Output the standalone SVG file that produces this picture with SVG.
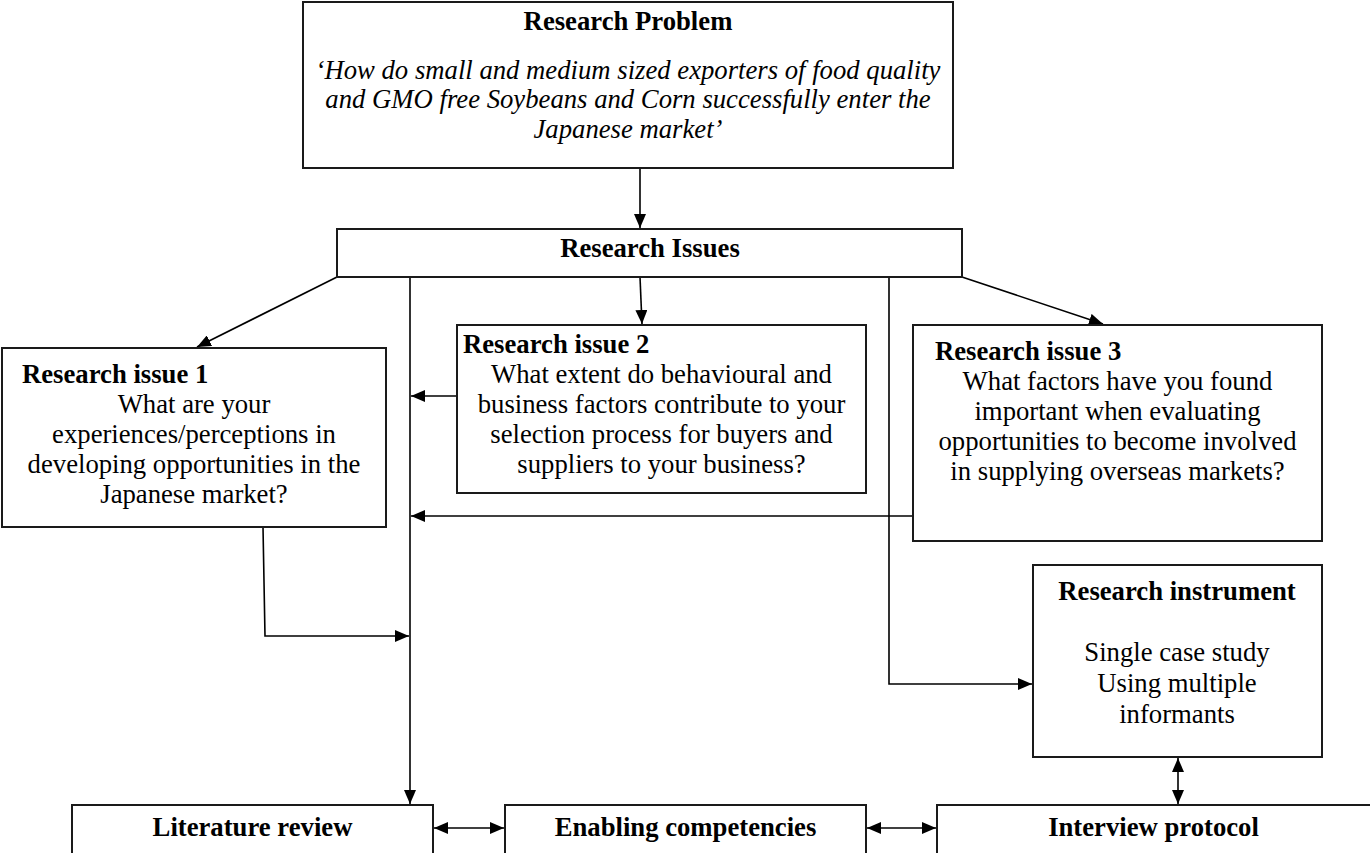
<svg xmlns="http://www.w3.org/2000/svg" width="1370" height="853" viewBox="0 0 1370 853">
  <style>
    .box { fill: #fff; stroke: #1a1a1a; stroke-width: 2; }
    .conn { fill: none; stroke: #000; stroke-width: 1.6; }
    text { font-family: "Liberation Serif", "Times New Roman", serif; font-size: 26.7px; fill: #000; }
    .b { font-weight: bold; }
    .i { font-style: italic; }
    .c { text-anchor: middle; }
  </style>
  <defs>
    <marker id="ah" viewBox="0 0 14 12" refX="14" refY="6" markerWidth="14" markerHeight="12" markerUnits="userSpaceOnUse" orient="auto-start-reverse">
      <path d="M0,0 L14,6 L0,12 z" fill="#000"/>
    </marker>
  </defs>
  <rect width="1370" height="853" fill="#fff"/>

  <!-- connectors -->
  <g id="connectors" class="conn">
    <path d="M640,168 V228" marker-end="url(#ah)"/>
    <path d="M337,277 L197,347" marker-end="url(#ah)"/>
    <path d="M962,277 L1103,324" marker-end="url(#ah)"/>
    <path d="M640,277 L642,324" marker-end="url(#ah)"/>
    <path d="M410,277 V804" marker-end="url(#ah)"/>
    <path d="M457,396 H411" marker-end="url(#ah)"/>
    <path d="M913,516 H411" marker-end="url(#ah)"/>
    <path d="M263,527 L265,636 H409" marker-end="url(#ah)"/>
    <path d="M889,277 V684 H1032" marker-end="url(#ah)"/>
    <path d="M1178,758 V804" marker-start="url(#ah)" marker-end="url(#ah)"/>
    <path d="M434,828 H504" marker-start="url(#ah)" marker-end="url(#ah)"/>
    <path d="M867,828 H936" marker-start="url(#ah)" marker-end="url(#ah)"/>
  </g>

  <g id="research-problem">
    <rect class="box" x="303" y="2" width="650" height="166"/>
    <text class="b c" x="628" y="30">Research Problem</text>
    <text class="i c" x="628" y="79">‘How do small and medium sized exporters of food quality</text>
    <text class="i c" x="628" y="108">and GMO free Soybeans and Corn successfully enter the</text>
    <text class="i c" x="628" y="138">Japanese market’</text>
  </g>

  <g id="research-issues">
    <rect class="box" x="337" y="229" width="625" height="48"/>
    <text class="b c" x="650" y="257">Research Issues</text>
  </g>

  <g id="research-issue-1">
    <rect class="box" x="2" y="348" width="384" height="179"/>
    <text class="b" x="22" y="383">Research issue 1</text>
    <text class="c" x="194" y="413">What are your</text>
    <text class="c" x="194" y="443">experiences/perceptions in</text>
    <text class="c" x="194" y="473">developing opportunities in the</text>
    <text class="c" x="194" y="503">Japanese market?</text>
  </g>

  <g id="research-issue-2">
    <rect class="box" x="457" y="325" width="409" height="168"/>
    <text class="b" x="463" y="353">Research issue 2</text>
    <text class="c" x="661.5" y="383">What extent do behavioural and</text>
    <text class="c" x="661.5" y="413">business factors contribute to your</text>
    <text class="c" x="661.5" y="443">selection process for buyers and</text>
    <text class="c" x="661.5" y="473">suppliers to your business?</text>
  </g>

  <g id="research-issue-3">
    <rect class="box" x="913" y="325" width="409" height="216"/>
    <text class="b" x="935" y="360">Research issue 3</text>
    <text class="c" x="1117.5" y="390">What factors have you found</text>
    <text class="c" x="1117.5" y="420">important when evaluating</text>
    <text class="c" x="1117.5" y="450">opportunities to become involved</text>
    <text class="c" x="1117.5" y="480">in supplying overseas markets?</text>
  </g>

  <g id="research-instrument">
    <rect class="box" x="1033" y="565" width="289" height="192"/>
    <text class="b c" x="1177" y="600">Research instrument</text>
    <text class="c" x="1177" y="661">Single case study</text>
    <text class="c" x="1177" y="692">Using multiple</text>
    <text class="c" x="1177" y="723">informants</text>
  </g>

  <g id="literature-review">
    <rect class="box" x="72" y="805" width="361" height="60"/>
    <text class="b c" x="252.5" y="836">Literature review</text>
  </g>

  <g id="enabling-competencies">
    <rect class="box" x="505" y="805" width="361" height="60"/>
    <text class="b c" x="685.5" y="836">Enabling competencies</text>
  </g>

  <g id="interview-protocol">
    <rect class="box" x="937" y="805" width="440" height="60"/>
    <text class="b c" x="1153.5" y="836">Interview protocol</text>
  </g>
</svg>
